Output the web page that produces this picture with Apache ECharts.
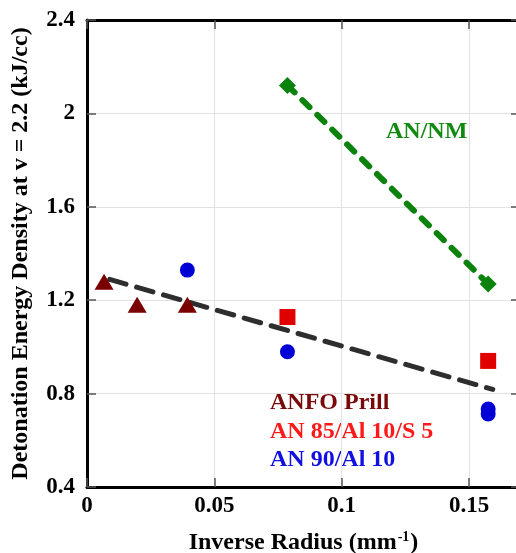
<!DOCTYPE html>
<html>
<head>
<meta charset="utf-8">
<script src="https://cdn.jsdelivr.net/npm/echarts@6/dist/echarts.min.js"></script>
<style>
html,body{margin:0;padding:0;background:#fff;}
#chart{width:516px;height:553px;}
</style>
</head>
<body>
<div id="chart"></div>
<script>
// Data
const anfoX = [0.0067, 0.0197, 0.0394];
const anfoY = [1.279, 1.181, 1.181];
const an85X = [0.0787, 0.1575];
const an85Y = [1.128, 0.94];
const an90X = [0.0394, 0.0787, 0.1575, 0.1575];
const an90Y = [1.329, 0.979, 0.734, 0.713];
const anNmX = [0.0787, 0.1575];
const anNmY = [2.12, 1.269];
const fitX = [0.0089, 0.1593];
const fitY = [1.289, 0.818];
const xTicks = [0, 0.05, 0.1, 0.15];
const yTicks = [0.4, 0.8, 1.2, 1.6, 2, 2.4];
const labels = ['ANFO Prill', 'AN 85/Al 10/S 5', 'AN 90/Al 10', 'AN/NM'];

const zip = (xs, ys) => xs.map((x, i) => [x, ys[i]]);
const FONT = '"Liberation Serif", "Times New Roman", serif';

const chart = echarts.init(document.getElementById('chart'), null, {renderer: 'canvas'});
const axisCommon = {
  type: 'value',
  axisLine: {show: true, onZero: false, lineStyle: {color: '#000', width: 3}},
  axisTick: {show: true, inside: true, length: 9, lineStyle: {color: '#555', width: 1.5}},
};
const txt = (text, color) => ({text: text, fill: color, fontFamily: 'Liberation Serif', fontWeight: 'bold', fontSize: 24});
chart.setOption({
  animation: false,
  backgroundColor: '#fff',
  grid: {left: 87, top: 20, width: 433, height: 467, containLabel: false, outerBoundsMode: 'none'},
  xAxis: [
    Object.assign({}, axisCommon, {
      position: 'bottom', min: 0, max: 0.17, interval: 0.05,
      axisLabel: {
        fontFamily: FONT, fontWeight: 'bold', fontSize: 23, color: '#000', margin: 8,
        formatter: v => xTicks.some(t => Math.abs(t - v) < 1e-9) ? String(+v.toFixed(2)) : ''
      },
      splitLine: {show: true, lineStyle: {color: '#e2e2e2', width: 1}},
      name: '{a|Inverse Radius (mm}{s|-1}{a|)}',
      nameLocation: 'middle', nameGap: 43,
      nameTextStyle: {
        rich: {
          a: {fontFamily: FONT, fontWeight: 'bold', fontSize: 24, color: '#000'},
          s: {fontFamily: FONT, fontWeight: 'bold', fontSize: 14, color: '#000', verticalAlign: 'top', padding: [0, 1, 12, 1]}
        }
      }
    }),
    Object.assign({}, axisCommon, {
      position: 'top', min: 0, max: 0.17, interval: 0.05,
      axisLabel: {show: false}, splitLine: {show: false}
    })
  ],
  yAxis: [
    Object.assign({}, axisCommon, {
      position: 'left', min: 0.4, max: 2.4, interval: 0.4,
      axisLabel: {
        fontFamily: FONT, fontWeight: 'bold', fontSize: 23, color: '#000', margin: 12,
        formatter: v => String(+v.toFixed(1))
      },
      splitLine: {show: true, lineStyle: {color: '#e2e2e2', width: 1}},
      name: 'Detonation Energy Density at v = 2.2 (kJ/cc)',
      nameLocation: 'middle', nameGap: 54, nameRotate: 90,
      nameTextStyle: {fontFamily: FONT, fontWeight: 'bold', fontSize: 24, color: '#000'}
    }),
    Object.assign({}, axisCommon, {
      position: 'right', min: 0.4, max: 2.4, interval: 0.4,
      axisLabel: {show: false}, splitLine: {show: false}
    })
  ],
  series: [
    {
      type: 'line', data: zip(fitX, fitY), symbol: 'none', silent: true,
      lineStyle: {color: '#2e2e2e', width: 5, type: [17, 11], cap: 'round', opacity: 1}, z: 2
    },
    {
      type: 'line', data: zip(anNmX, anNmY), symbol: 'none', silent: true,
      lineStyle: {color: '#0b820b', width: 6, type: [10, 11], cap: 'round', opacity: 1}, z: 2
    },
    {
      name: labels[0], type: 'scatter', data: zip(anfoX, anfoY),
      symbol: 'triangle', symbolSize: [19, 16], itemStyle: {color: '#7a0000', opacity: 1}, z: 3
    },
    {
      name: labels[1], type: 'scatter', data: zip(an85X, an85Y),
      symbol: 'rect', symbolSize: 16, itemStyle: {color: '#e00000', opacity: 1}, z: 3
    },
    {
      name: labels[2], type: 'scatter', data: zip(an90X, an90Y),
      symbol: 'circle', symbolSize: 15, itemStyle: {color: '#0000d6', opacity: 1}, z: 3
    },
    {
      name: labels[3], type: 'scatter', data: zip(anNmX, anNmY),
      symbol: 'diamond', symbolSize: [17, 17], itemStyle: {color: '#0b820b', opacity: 1}, z: 3
    }
  ],
  graphic: [
    {type: 'text', x: 270, y: 391, style: txt(labels[0], '#7a0a0a')},
    {type: 'text', x: 270, y: 420, style: txt(labels[1], '#ff1a1a')},
    {type: 'text', x: 270, y: 448, style: txt(labels[2], '#1010e0')},
    {type: 'text', x: 386, y: 120, style: txt(labels[3], '#118a11')}
  ]
});
</script>
</body>
</html>
